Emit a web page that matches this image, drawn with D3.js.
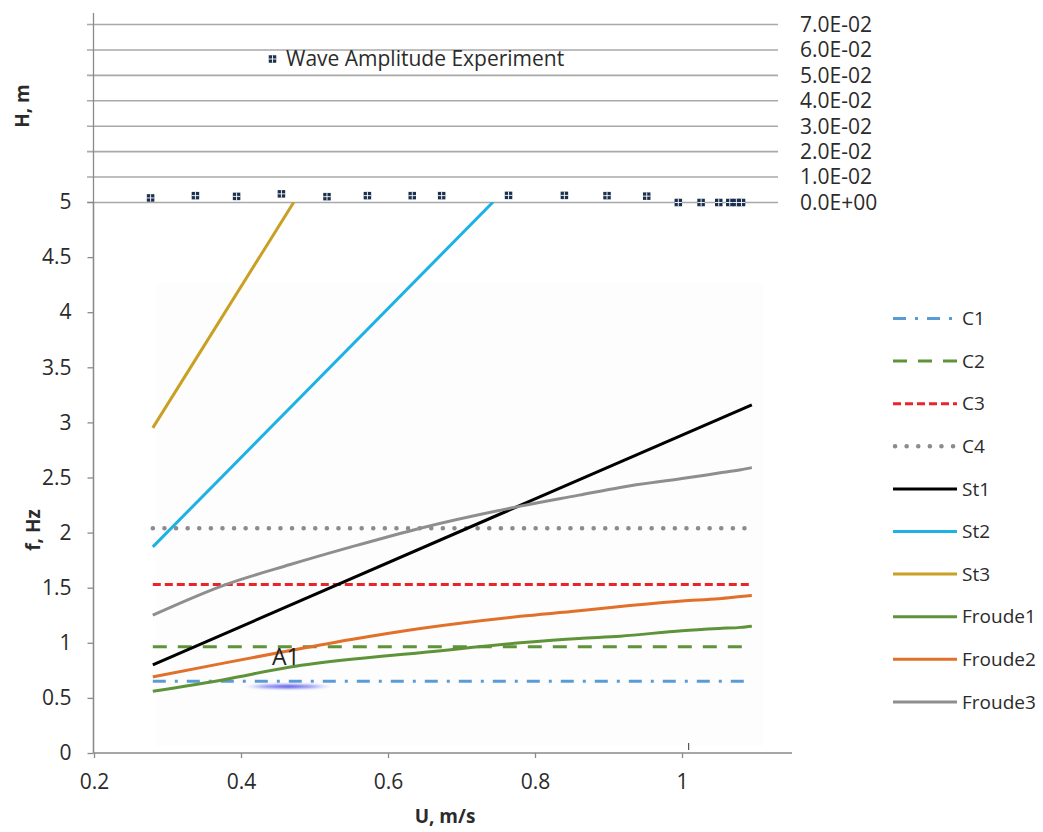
<!DOCTYPE html>
<html>
<head>
<meta charset="utf-8">
<script src="https://cdn.jsdelivr.net/npm/d3@7"></script>
<style>
  html, body { margin: 0; padding: 0; background: #ffffff; }
  svg { display: block; font-family: "Open Sans", "Noto Sans", sans-serif; }
</style>
</head>
<body>
<svg id="chart" width="1043" height="832"></svg>
<script>
// ---- data ----------------------------------------------------------
// Flow speed U (m/s) and measured wave amplitude H (m)
const waveU = [0.277, 0.338, 0.394, 0.455, 0.517, 0.572, 0.633, 0.673, 0.764,
               0.840, 0.898, 0.952, 0.995, 1.026, 1.050, 1.065, 1.074, 1.081];
const waveH = [0.0018, 0.0027, 0.0024, 0.0034, 0.0023, 0.0027, 0.0027, 0.0027, 0.0028,
               0.0028, 0.0027, 0.0025, 0, 0, 0, 0, 0, 0];

// Constant natural frequencies (Hz), drawn across the tested speed range
const constRange = [0.28, 1.095];
const C1 = 0.65, C2 = 0.965, C3 = 1.53, C4 = 2.04;

// Strouhal lines, f = St * U / D  (U, f pairs)
const st1U = [0.28, 1.095], st1F = [0.80, 3.16];
const st2U = [0.28, 0.743], st2F = [1.87, 5.0];
const st3U = [0.28, 0.472], st3F = [2.95, 5.0];

// Froude-scaled frequencies
const frU  = [0.28, 0.38, 0.467, 0.55, 0.644, 0.78, 0.86, 0.916, 1.0, 1.05, 1.08, 1.095];
const fr1F = [0.56, 0.67, 0.78, 0.85, 0.91, 1.00, 1.04, 1.06, 1.11, 1.13, 1.14, 1.15];
const fr2F = [0.69, 0.82, 0.93, 1.03, 1.13, 1.24, 1.29, 1.33, 1.38, 1.40, 1.42, 1.43];
const fr3F = [1.25, 1.53, 1.71, 1.87, 2.04, 2.24, 2.34, 2.41, 2.49, 2.54, 2.57, 2.59];

const xTicks = [0.2, 0.4, 0.6, 0.8, 1];
const fTicks = [0, 0.5, 1, 1.5, 2, 2.5, 3, 3.5, 4, 4.5, 5];
const hTicks = [0, 0.01, 0.02, 0.03, 0.04, 0.05, 0.06, 0.07];

const seriesNames = ["C1", "C2", "C3", "C4", "St1", "St2", "St3", "Froude1", "Froude2", "Froude3"];

// ---- styles --------------------------------------------------------
const styles = {
  C1:      { color: "#5b9bd5", width: 3,   dash: "13 9 3 9" },
  C2:      { color: "#5f9339", width: 3,   dash: "14 11" },
  C3:      { color: "#e8252b", width: 3,   dash: "8 4" },
  C4:      { color: "#8c8c8c", width: 4.5, dash: "0.1 11.5", cap: "round" },
  St1:     { color: "#000000", width: 3 },
  St2:     { color: "#1eb1e6", width: 3 },
  St3:     { color: "#c9a023", width: 3 },
  Froude1: { color: "#5f9339", width: 3 },
  Froude2: { color: "#e0702a", width: 3 },
  Froude3: { color: "#8e8e8e", width: 3 }
};

const series = {
  C1: constRange.map(u => [u, C1]),
  C2: constRange.map(u => [u, C2]),
  C3: constRange.map(u => [u, C3]),
  C4: constRange.map(u => [u, C4]),
  St1: st1U.map((u, i) => [u, st1F[i]]),
  St2: st2U.map((u, i) => [u, st2F[i]]),
  St3: st3U.map((u, i) => [u, st3F[i]]),
  Froude1: frU.map((u, i) => [u, fr1F[i]]),
  Froude2: frU.map((u, i) => [u, fr2F[i]]),
  Froude3: frU.map((u, i) => [u, fr3F[i]])
};

// ---- scales --------------------------------------------------------
const svg = d3.select("#chart");
const x  = d3.scaleLinear().domain([0.2, 1.15]).range([94, 792.25]);
const yF = d3.scaleLinear().domain([0, 5]).range([753, 202]);
const yH = d3.scaleLinear().domain([0, 0.07]).range([202.5, 24.5]);

const axisColor = "#8a8a8a";
const textColor = "#2b2b2b";
const fontSize = 21;

const defs = svg.append("defs");

// faint plot-area tint
svg.append("rect")
  .attr("x", 156).attr("y", 283).attr("width", 607).attr("height", 463)
  .attr("fill", "#fdfdfd");

// ---- top panel: wave amplitude ------------------------------------
const ampPanel = svg.append("g");
ampPanel.selectAll("line.grid").data(hTicks).join("line")
  .attr("class", "grid")
  .attr("x1", 87).attr("x2", 778)
  .attr("y1", d => yH(d)).attr("y2", d => yH(d))
  .attr("stroke", "#a9a9a9").attr("stroke-width", 1.6);

function sciFormat(v) {
  const [m, e] = v.toExponential(1).split("e");
  const sign = e[0] === "-" ? "-" : "+";
  const ex = String(Math.abs(+e)).padStart(2, "0");
  return m + "E" + sign + ex;
}
ampPanel.selectAll("text.hlab").data(hTicks).join("text")
  .attr("class", "hlab")
  .attr("x", 800).attr("y", d => yH(d))
  .attr("dy", "0.35em")
  .attr("font-size", fontSize).attr("fill", textColor)
  .text(sciFormat);

function drawMarker(g, cx, cy) {
  const s = 7.5;
  g.append("rect").attr("x", cx - s / 2).attr("y", cy - s / 2)
    .attr("width", s).attr("height", s).attr("fill", "#1b2f4e");
  g.append("line").attr("x1", cx).attr("x2", cx).attr("y1", cy - s / 2).attr("y2", cy + s / 2)
    .attr("stroke", "#ffffff").attr("stroke-width", 0.9);
  g.append("line").attr("x1", cx - s / 2).attr("x2", cx + s / 2).attr("y1", cy).attr("y2", cy)
    .attr("stroke", "#ffffff").attr("stroke-width", 0.9);
}
const markers = ampPanel.append("g");
waveU.forEach((u, i) => drawMarker(markers, x(u), yH(waveH[i])));

// legend of top panel
drawMarker(ampPanel, 272.5, 59);
ampPanel.append("text").attr("x", 286).attr("y", 59).attr("dy", "0.35em")
  .attr("font-size", fontSize).attr("fill", textColor)
  .text("Wave Amplitude Experiment");

ampPanel.append("text")
  .attr("transform", "translate(22,106) rotate(-90)")
  .attr("text-anchor", "middle").attr("dy", "0.35em")
  .attr("font-size", 19).attr("font-weight", "bold").attr("fill", textColor)
  .text("H, m");

// ---- bottom panel: frequencies -----------------------------------
defs.append("clipPath").attr("id", "plotClip")
  .append("rect").attr("x", 94).attr("y", 202).attr("width", 700).attr("height", 551);

// blurred blue mark under the A1 label
const grad = defs.append("radialGradient").attr("id", "smudge");
grad.append("stop").attr("offset", "0%").attr("stop-color", "#3b35e0").attr("stop-opacity", 0.95);
grad.append("stop").attr("offset", "60%").attr("stop-color", "#6a6af0").attr("stop-opacity", 0.6);
grad.append("stop").attr("offset", "100%").attr("stop-color", "#9aa0f5").attr("stop-opacity", 0);
defs.append("filter").attr("id", "soft").append("feGaussianBlur").attr("stdDeviation", 0.8);
svg.append("ellipse")
  .attr("cx", 288).attr("cy", 686.5).attr("rx", 45).attr("ry", 3.2)
  .attr("fill", "url(#smudge)").attr("filter", "url(#soft)");

const line = d3.line().x(d => x(d[0])).y(d => yF(d[1])).curve(d3.curveMonotoneX);
const plot = svg.append("g").attr("clip-path", "url(#plotClip)");
seriesNames.forEach(name => {
  const st = styles[name];
  plot.append("path")
    .datum(series[name])
    .attr("d", line)
    .attr("fill", "none")
    .attr("stroke", st.color)
    .attr("stroke-width", st.width)
    .attr("stroke-dasharray", st.dash || null)
    .attr("stroke-linecap", st.cap || "butt")
    .attr("stroke-linejoin", "round");
});

// annotation
svg.append("text").attr("x", 272).attr("y", 665)
  .attr("font-size", 23).attr("fill", "#222222").text("A1");

// axes
const yAxis = d3.axisLeft(yF).tickValues(fTicks).tickFormat(d => d).tickSize(6).tickPadding(16);
const gy = svg.append("g").attr("transform", "translate(93.5,0)").call(yAxis);
const xAxis = d3.axisBottom(x).tickValues(xTicks).tickFormat(d => d).tickSize(5).tickPadding(16);
const gx = svg.append("g").attr("transform", "translate(0,753)").call(xAxis);
[gx, gy].forEach(g => {
  g.select(".domain").attr("stroke", axisColor).attr("stroke-width", 1.3);
  g.selectAll(".tick line").attr("stroke", axisColor).attr("stroke-width", 1.3);
  g.selectAll(".tick text").attr("font-size", fontSize).attr("fill", textColor)
    .attr("font-family", "'Open Sans', sans-serif");
});
gy.select(".domain").attr("d", "M0,202V753");
gx.select(".domain").attr("d", "M93.5,0H792");
// shared vertical axis line continuing through the top panel
svg.append("line").attr("x1", 93.5).attr("x2", 93.5).attr("y1", 13).attr("y2", 753)
  .attr("stroke", axisColor).attr("stroke-width", 1.3);
// small stray tick near U = 1
svg.append("line").attr("x1", x(1.009)).attr("x2", x(1.009)).attr("y1", 743).attr("y2", 750)
  .attr("stroke", "#555555").attr("stroke-width", 1.2);

svg.append("text")
  .attr("transform", "translate(33,530) rotate(-90)")
  .attr("text-anchor", "middle").attr("dy", "0.35em")
  .attr("font-size", 19).attr("font-weight", "bold").attr("fill", textColor)
  .text("f, Hz");
svg.append("text")
  .attr("x", 445).attr("y", 816).attr("text-anchor", "middle").attr("dy", "0.35em")
  .attr("font-size", 19).attr("font-weight", "bold").attr("fill", textColor)
  .text("U, m/s");

// ---- legend --------------------------------------------------------
const legend = svg.append("g");
seriesNames.forEach((name, i) => {
  const st = styles[name];
  const ly = 318.5 + i * 42.6;
  legend.append("line")
    .attr("x1", st.cap ? 895 : 893).attr("x2", 957).attr("y1", ly).attr("y2", ly)
    .attr("stroke", st.color).attr("stroke-width", st.width)
    .attr("stroke-dasharray", st.dash || null)
    .attr("stroke-linecap", st.cap || "butt");
  legend.append("text").attr("x", 962).attr("y", ly).attr("dy", "0.35em")
    .attr("font-size", 19).attr("fill", textColor).text(name);
});
</script>
</body>
</html>
